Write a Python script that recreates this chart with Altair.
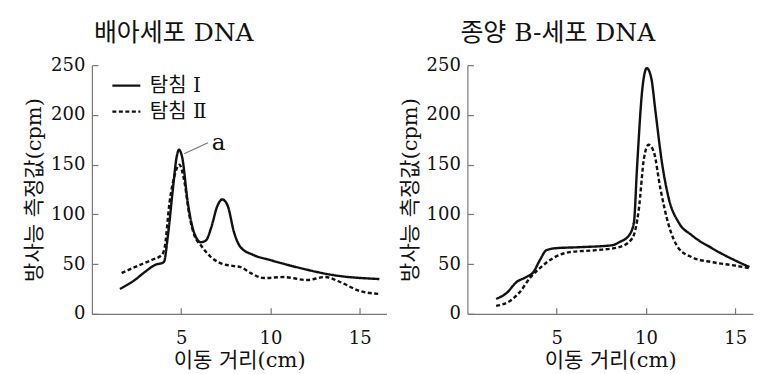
import altair as alt
import pandas as pd

# ---- data ----
probes = ["탐침 Ⅰ", "탐침 Ⅱ"]

left_x1 = [1.57, 2.4, 2.96, 3.52, 4.03, 4.26, 4.54, 4.75, 4.88, 5.05, 5.37, 5.65, 6.1, 6.4, 6.67, 7.04, 7.3, 7.6, 7.96, 8.33, 9.07, 10.0, 11.67, 13.5, 16.1]
left_y1 = [25, 34, 42, 49, 52, 79, 126, 158, 165, 158, 112, 86, 72, 74, 86, 109, 115, 109, 82, 67, 59, 54, 46, 39, 35]
left_x2 = [1.67, 2.4, 3.33, 3.9, 4.07, 4.35, 4.63, 4.9, 5.19, 5.46, 5.74, 6.1, 6.67, 7.2, 7.96, 8.33, 8.9, 9.63, 10.74, 12.04, 13.06, 13.9, 15.0, 16.1]
left_y2 = [41, 47, 54, 59, 66, 112, 139, 150, 132, 99, 79, 69, 57, 51, 48, 47, 41, 36, 37, 34, 37, 32, 23, 20]

right_x1 = [1.61, 2.2, 2.76, 3.3, 3.7, 4.06, 4.43, 4.98, 6.28, 8.13, 8.5, 9.06, 9.33, 9.5, 9.8, 10.05, 10.3, 10.54, 10.9, 11.28, 11.83, 12.57, 13.7, 15.8]
right_y1 = [15, 21, 32, 37, 42, 54, 64, 66, 67, 69, 72, 79, 92, 146, 226, 247, 237, 203, 152, 116, 92, 79, 66, 47]
right_x2 = [1.61, 2.39, 2.94, 3.5, 4.06, 4.8, 5.72, 7.2, 8.5, 9.24, 9.61, 9.89, 10.15, 10.44, 10.81, 11.28, 11.83, 12.57, 13.7, 14.8, 15.8]
right_y2 = [8, 13, 22, 36, 46, 56, 62, 64, 67, 76, 106, 156, 170, 163, 126, 89, 66, 57, 52, 49, 46]

x_ticks = [5, 10, 15]
y_ticks = [0, 50, 100, 150, 200, 250]

# annotation "a" (left panel)
ann_label = ["a"]
ann_x = [7.1]
ann_y = [172]
leader_x = [5.17]
leader_y = [161]
leader_x2 = [6.5]
leader_y2 = [172]

SERIF = "DejaVu Serif, Noto Sans CJK KR"


def frame(xs1, ys1, xs2, ys2):
    rows = []
    for i, (x, y) in enumerate(zip(xs1, ys1)):
        rows.append({"x": x, "y": y, "probe": probes[0], "i": i})
    for i, (x, y) in enumerate(zip(xs2, ys2)):
        rows.append({"x": x, "y": y, "probe": probes[1], "i": i})
    return pd.DataFrame(rows)


def panel(df, title, xmax, width, dx):
    xenc = alt.X("x:Q", scale=alt.Scale(domain=[0, xmax], nice=False, zero=False),
                 axis=alt.Axis(values=x_ticks, title="이동 거리(cm)"))
    yenc = alt.Y("y:Q", scale=alt.Scale(domain=[0, 250], nice=False),
                 axis=alt.Axis(values=y_ticks, title="방사능 측정값(cpm)"))
    lines = alt.Chart(df).mark_line(interpolate="monotone", strokeWidth=2.4, color="#111").encode(
        x=xenc,
        y=yenc,
        order="i:Q",
        strokeDash=alt.StrokeDash(
            "probe:N",
            scale=alt.Scale(domain=probes, range=[[1, 0], [4, 2.5]]),
            legend=alt.Legend(
                title=None, orient="none", legendX=19, legendY=5,
                symbolType="stroke", symbolSize=784, symbolStrokeWidth=2.4,
                symbolStrokeColor="#111", labelFont=SERIF, labelFontSize=20,
                labelColor="#111", labelOffset=8, rowPadding=0, padding=0,
            ),
        ),
    )
    return lines.properties(
        width=width, height=249,
        title=alt.TitleParams(title, anchor="start", frame="group", font=SERIF, fontSize=25,
                              fontWeight="normal", color="#111", offset=10, dx=dx),
    )


left_df = frame(left_x1, left_y1, left_x2, left_y2)
right_df = frame(right_x1, right_y1, right_x2, right_y2)

left = panel(left_df, "배아세포 DNA", 16.5, 295, 2)

ann_df = pd.DataFrame({"label": ann_label, "x": ann_x, "y": ann_y})
lead_df = pd.DataFrame({"x": leader_x, "y": leader_y, "x2": leader_x2, "y2": leader_y2})
ann = alt.Chart(ann_df).mark_text(font="DejaVu Serif", fontSize=23, color="#111", baseline="middle", align="center").encode(
    x="x:Q", y="y:Q", text="label:N")
lead = alt.Chart(lead_df).mark_rule(color="#777", strokeWidth=1.2).encode(
    x="x:Q", y="y:Q", x2="x2:Q", y2="y2:Q")

left = alt.layer(left, lead, ann)

right = panel(right_df, "종양 B-세포 DNA", 16.0, 286, -7)

chart = alt.hconcat(left, right, spacing=12).properties(
    padding={"left": 15, "top": 13, "right": 2, "bottom": 0}
).configure_view(stroke=None).configure_axis(
    grid=False,
    domainColor="#777",
    domainWidth=1.2,
    tickColor="#777",
    tickWidth=1.2,
    tickSize={"expr": "-6"},
    labelFont="DejaVu Serif",
    labelFontSize=18,
    labelColor="#111",
    labelPadding=13,
    titleFont=SERIF,
    titleFontSize=21,
    titleFontWeight="normal",
    titleColor="#111",
).configure_axisY(labelPadding=13, titlePadding=6).configure_axisX(labelPadding=22, titlePadding=2)

chart.save("out.html", embed_options={"renderer": "svg", "actions": False})
